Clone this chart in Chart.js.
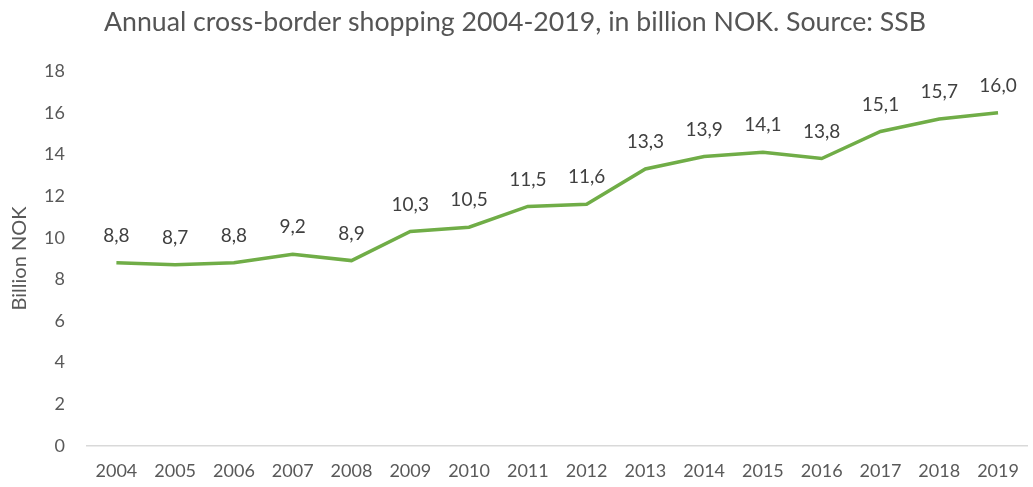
<!DOCTYPE html>
<html>
<head>
<meta charset="utf-8">
<script src="https://cdn.jsdelivr.net/npm/chart.js@4"></script>
<style>
  html, body { margin: 0; padding: 0; background: #fff; }
  #wrap { width: 1033px; height: 487px; }
</style>
</head>
<body>
<div id="wrap"><canvas id="chart" width="1033" height="487"></canvas></div>
<script>
const years = ['2004', '2005', '2006', '2007', '2008', '2009', '2010', '2011',
  '2012', '2013', '2014', '2015', '2016', '2017', '2018', '2019'];
const billionNok = [8.8, 8.7, 8.8, 9.2, 8.9, 10.3, 10.5, 11.5,
  11.6, 13.3, 13.9, 14.1, 13.8, 15.1, 15.7, 16.0];
const yTicks = [0, 2, 4, 6, 8, 10, 12, 14, 16, 18];

const FONT = 'Lato, "Open Sans", sans-serif';

// value labels above each point, Norwegian decimal comma
const pointLabels = {
  id: 'pointLabels',
  afterDatasetsDraw(chart) {
    const ctx = chart.ctx;
    const meta = chart.getDatasetMeta(0);
    ctx.save();
    ctx.font = '19px ' + FONT;
    ctx.fillStyle = '#404040';
    ctx.textAlign = 'center';
    ctx.textBaseline = 'middle';
    meta.data.forEach((pt, i) => {
      ctx.fillText(billionNok[i].toFixed(1).replace('.', ','), pt.x, pt.y - 27);
    });
    ctx.restore();
  }
};

new Chart(document.getElementById('chart').getContext('2d'), {
  type: 'line',
  data: {
    labels: years,
    datasets: [{
      data: billionNok,
      borderColor: '#70AD47',
      borderWidth: 3.5,
      pointRadius: 0,
      tension: 0,
      fill: false
    }]
  },
  options: {
    responsive: false,
    animation: false,
    layout: { padding: { top: 0, right: 3, bottom: 0, left: 0 } },
    plugins: {
      legend: { display: false },
      tooltip: { enabled: false },
      title: {
        display: true,
        text: 'Annual cross-border shopping 2004-2019, in billion NOK. Source: SSB',
        color: '#555555',
        font: { family: FONT, size: 26.7, weight: 'normal' },
        padding: { top: 6, bottom: 33 }
      }
    },
    scales: {
      x: {
        offset: true,
        grid: { display: false, drawTicks: false },
        border: { display: true, color: '#D9D9D9', width: 1.5 },
        ticks: { color: '#595959', font: { family: FONT, size: 18 }, padding: 14, maxRotation: 0 },
        afterFit(scale) { scale.height = 41; }
      },
      y: {
        min: 0,
        max: 18,
        afterBuildTicks(scale) { scale.ticks = yTicks.map((v) => ({ value: v })); },
        grid: { display: false, drawTicks: false },
        border: { display: false },
        ticks: { color: '#595959', font: { family: FONT, size: 18 }, padding: 22 },
        title: {
          display: true,
          text: 'Billion NOK',
          color: '#595959',
          font: { family: FONT, size: 20 },
          padding: { top: 8, bottom: 0 }
        },
        afterFit(scale) { scale.width = 87; }
      }
    }
  },
  plugins: [pointLabels]
});
</script>
</body>
</html>
